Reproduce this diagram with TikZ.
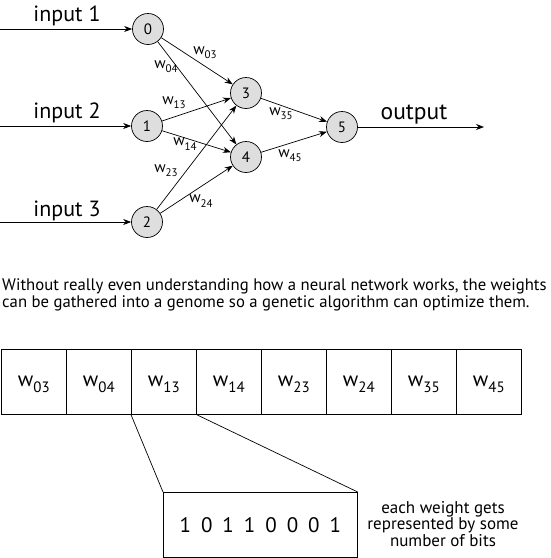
\documentclass[tikz,border=0pt]{standalone}
\usepackage{fontspec}
\setmainfont[Numbers=Lining]{PT Sans}
\usetikzlibrary{arrows.meta}
\newcommand\wsub[2]{w\raisebox{-0.55ex}{\fontsize{#2}{#2}\selectfont #1}}
\begin{document}
\begin{tikzpicture}[x=1pt,y=-1pt,
  neuron/.style={circle,draw,line width=0.7pt,fill=black!13,minimum size=31pt,inner sep=0pt,font=\fontsize{15}{17}\selectfont},
  conn/.style={-{Stealth[length=8pt,width=6pt]},line width=0.7pt},
  wlab/.style={font=\fontsize{15.5}{17}\selectfont,inner sep=0pt},
  biglab/.style={font=\fontsize{22}{24}\selectfont,inner sep=0pt},
  cell/.style={draw,line width=0.7pt,minimum width=65pt,minimum height=65pt,inner sep=0pt,anchor=north west,
    text height=12pt,text depth=2pt,font=\fontsize{21}{23}\selectfont},
  plain/.style={line width=0.7pt},
]
\useasboundingbox (0,0) rectangle (550,558);
% neurons
\node[neuron] (n0) at (148,29) {0};
\node[neuron] (n1) at (147,126) {1};
\node[neuron] (n2) at (147,222) {2};
\node[neuron] (n3) at (246,93) {3};
\node[neuron] (n4) at (246,157) {4};
\node[neuron] (n5) at (342,127) {5};
% inputs
\coordinate (i1) at (0,29);
\coordinate (i2) at (0,126);
\coordinate (i3) at (0,222);
\coordinate (out) at (484,127);
\draw[conn] (i1) -- (n0);
\draw[conn] (i2) -- (n1);
\draw[conn] (i3) -- (n2);
\draw[conn] (n5) -- (out);
\node[biglab,anchor=base] (l1) at (67,21) {input 1};
\node[biglab,anchor=base] (l2) at (67,118) {input 2};
\node[biglab,anchor=base] (l3) at (67,216) {input 3};
\node[biglab,anchor=base,font=\fontsize{23.5}{25}\selectfont] (lo) at (414,119) {output};
% connections
\draw[conn] (n0) -- (n3);
\draw[conn] (n0) -- (n4);
\draw[conn] (n1) -- (n3);
\draw[conn] (n1) -- (n4);
\draw[conn] (n2) -- (n3);
\draw[conn] (n2) -- (n4);
\draw[conn] (n3) -- (n5);
\draw[conn] (n4) -- (n5);
% weight labels
\node[wlab] (w03) at (205,53) {\wsub{03}{11}};
\node[wlab] (w04) at (166,67) {\wsub{04}{11}};
\node[wlab] (w13) at (174,103) {\wsub{13}{11}};
\node[wlab] (w14) at (185,144) {\wsub{14}{11}};
\node[wlab] (w23) at (166,171) {\wsub{23}{11}};
\node[wlab] (w24) at (201,201) {\wsub{24}{11}};
\node[wlab] (w35) at (281,114) {\wsub{35}{11}};
\node[wlab] (w45) at (290,156) {\wsub{45}{11}};
% paragraph
\node[anchor=base west,align=left,inner sep=0pt,font={\fontsize{16.7}{17}\selectfont\lineskiplimit=-30pt}] (para) at (2,307)
  {Without really even understanding how a neural network works, the weights\\
   can be gathered into a genome so a genetic algorithm can optimize them.};
% genome array
\foreach \i/\l in {1/03,2/04,3/13,4/14,5/23,6/24,7/35,8/45}
  \node[cell] (c\i) at ({1+65*(\i-1)},349) {\wsub{\l}{15}};
% bits
\node[draw,line width=0.7pt,minimum width=194pt,minimum height=65pt,inner sep=0pt,anchor=north west,
  font=\fontsize{21}{24}\selectfont] (bits) at (163,492)
  {1\hspace{10pt}0\hspace{10pt}1\hspace{10pt}1\hspace{10pt}0\hspace{10pt}0\hspace{10pt}0\hspace{10pt}1};
\draw[plain] (c3.south west) -- (bits.north west);
\draw[plain] (c3.south east) -- (bits.north east);
\node[align=center,inner sep=0pt,anchor=base,font={\fontsize{17}{16.5}\selectfont\lineskiplimit=-30pt}] (note) at (443,546)
  {each weight gets\\represented by some\\number of bits};
\end{tikzpicture}
\end{document}
